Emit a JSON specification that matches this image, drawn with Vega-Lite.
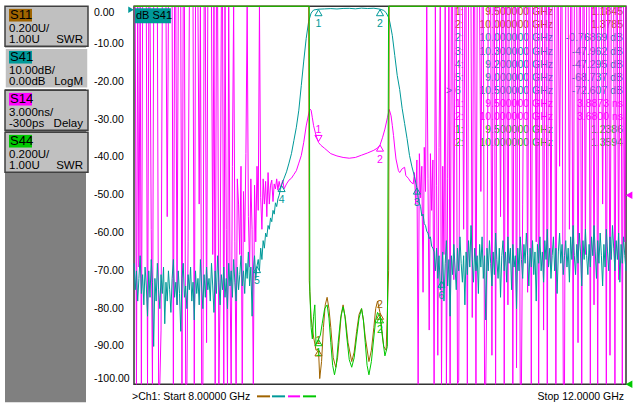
{
"$schema": "https://vega.github.io/schema/vega-lite/v6.json",
"background": "white",
"padding": {"left": 4, "top": 3.25, "right": 0, "bottom": 0},
"bounds": "flush",
"spacing": 48,
"config": {"view": {"stroke": null},
  "axisY": {"labels": false, "ticks": false, "domain": false, "grid": false},
  "axisX": {"labels": false, "ticks": false, "domain": false, "grid": false}},
"datasets": {
"panel": [
{"trace":"S11","scale":"0.200U/","ref":"1.00U","fmt":"SWR"},
{"trace":"S41","scale":"10.00dB/","ref":"0.00dB","fmt":"LogM"},
{"trace":"S14","scale":"3.000ns/","ref":"-300ps","fmt":"Delay"},
{"trace":"S44","scale":"0.200U/","ref":"1.00U","fmt":"SWR"}
],
"ylab": [
{"t":0,"l":"0.00"},{"t":-10,"l":"-10.00"},{"t":-20,"l":"-20.00"},{"t":-30,"l":"-30.00"},{"t":-40,"l":"-40.00"},{"t":-50,"l":"-50.00"},
{"t":-60,"l":"-60.00"},{"t":-70,"l":"-70.00"},{"t":-80,"l":"-80.00"},{"t":-90,"l":"-90.00"},{"t":-100,"l":"-100.00"}
],
"table": [
{"row":1,"trace":"S11","act":"","num":"1:","freq":"9.500000 GHz","val":"1.1845"},
{"row":2,"trace":"S11","act":"","num":"2:","freq":"10.000000 GHz","val":"1.3785"},
{"row":3,"trace":"S41","act":"","num":"2:","freq":"10.000000 GHz","val":"-0.76869 dB"},
{"row":4,"trace":"S41","act":"","num":"3:","freq":"10.300000 GHz","val":"-47.962 dB"},
{"row":5,"trace":"S41","act":"","num":"4:","freq":"9.200000 GHz","val":"-47.295 dB"},
{"row":6,"trace":"S41","act":"","num":"5:","freq":"9.000000 GHz","val":"-68.737 dB"},
{"row":7,"trace":"S41","act":">","num":"6","freq":"10.500000 GHz","val":"-72.607 dB"},
{"row":8,"trace":"S14","act":"","num":"1:","freq":"9.500000 GHz","val":"3.8873 ns"},
{"row":9,"trace":"S14","act":"","num":"2:","freq":"10.000000 GHz","val":"3.6800 ns"},
{"row":10,"trace":"S44","act":"","num":"1:","freq":"9.500000 GHz","val":"1.2386"},
{"row":11,"trace":"S44","act":"","num":"2:","freq":"10.000000 GHz","val":"1.3594"}
],
"s41m": [
{"m":"1","f":9.5,"v":-0.77},{"m":"2","f":10.0,"v":-0.77},{"m":"3","f":10.3,"v":-47.962},
{"m":"4","f":9.2,"v":-47.295},{"m":"5","f":9.0,"v":-68.737},{"m":"6","f":10.5,"v":-72.607}
],
"s14m": [{"m":"1","f":9.5,"v":3.8873},{"m":"2","f":10.0,"v":3.68}],
"s11m": [{"m":"1","f":9.5,"v":1.1845},{"m":"2","f":10.0,"v":1.3785}],
"s44m": [{"m":"1","f":9.5,"v":1.2386},{"m":"2","f":10.0,"v":1.3594}],
"s11": [
{"f":8.0,"v":5},{"f":9.42,"v":5},{"f":9.425,"v":1.55},{"f":9.44,"v":1.35},{"f":9.46,"v":1.25},{"f":9.48,"v":1.18},{"f":9.5,"v":1.1845},{"f":9.51,"v":1.03},{"f":9.525,"v":1.12},{"f":9.54,"v":1.3},{"f":9.555,"v":1.42},{"f":9.57,"v":1.46},{"f":9.585,"v":1.4},{"f":9.6,"v":1.3},{"f":9.62,"v":1.14},{"f":9.64,"v":1.09},{"f":9.655,"v":1.14},{"f":9.67,"v":1.25},{"f":9.685,"v":1.37},{"f":9.7,"v":1.42},{"f":9.72,"v":1.34},{"f":9.74,"v":1.22},{"f":9.77,"v":1.12},{"f":9.79,"v":1.17},{"f":9.81,"v":1.28},{"f":9.83,"v":1.37},{"f":9.85,"v":1.4},{"f":9.865,"v":1.34},{"f":9.88,"v":1.25},{"f":9.91,"v":1.12},{"f":9.93,"v":1.18},{"f":9.95,"v":1.3},{"f":9.965,"v":1.4},{"f":9.98,"v":1.44},{"f":10.0,"v":1.3785},{"f":10.03,"v":1.2},{"f":10.05,"v":1.18},{"f":10.07,"v":1.6},{"f":10.075,"v":5},{"f":12.0,"v":5}
],
"s44": [
{"f":8.0,"v":5},{"f":9.425,"v":5},{"f":9.43,"v":1.49},{"f":9.44,"v":1.3},{"f":9.45,"v":1.24},{"f":9.46,"v":1.36},{"f":9.47,"v":1.42},{"f":9.48,"v":1.21},{"f":9.5,"v":1.2386},{"f":9.515,"v":1.26},{"f":9.53,"v":1.32},{"f":9.55,"v":1.4},{"f":9.57,"v":1.42},{"f":9.585,"v":1.35},{"f":9.6,"v":1.22},{"f":9.615,"v":1.1},{"f":9.63,"v":1.05},{"f":9.645,"v":1.1},{"f":9.66,"v":1.22},{"f":9.68,"v":1.35},{"f":9.7,"v":1.41},{"f":9.715,"v":1.36},{"f":9.73,"v":1.25},{"f":9.75,"v":1.13},{"f":9.77,"v":1.09},{"f":9.79,"v":1.14},{"f":9.81,"v":1.25},{"f":9.83,"v":1.35},{"f":9.85,"v":1.4},{"f":9.865,"v":1.34},{"f":9.88,"v":1.22},{"f":9.895,"v":1.1},{"f":9.91,"v":1.05},{"f":9.93,"v":1.12},{"f":9.95,"v":1.25},{"f":9.965,"v":1.34},{"f":9.98,"v":1.38},{"f":10.0,"v":1.3594},{"f":10.02,"v":1.25},{"f":10.04,"v":1.15},{"f":10.06,"v":1.2},{"f":10.07,"v":5},{"f":12.0,"v":5}
],
"s41": [
{"f":8.00,"v":-68},{"f":8.01,"v":-75},{"f":8.02,"v":-70},{"f":8.03,"v":-78},{"f":8.04,"v":-72},{"f":8.05,"v":-66},{"f":8.06,"v":-76},{"f":8.07,"v":-71},{"f":8.08,"v":-79},{"f":8.09,"v":-69},
{"f":8.10,"v":-74},{"f":8.11,"v":-82},{"f":8.12,"v":-70},{"f":8.13,"v":-77},{"f":8.14,"v":-67},{"f":8.15,"v":-73},{"f":8.16,"v":-90},{"f":8.17,"v":-72},{"f":8.18,"v":-78},{"f":8.19,"v":-68},
{"f":8.20,"v":-75},{"f":8.21,"v":-80},{"f":8.22,"v":-71},{"f":8.23,"v":-76},{"f":8.24,"v":-69},{"f":8.25,"v":-84},{"f":8.26,"v":-73},{"f":8.27,"v":-78},{"f":8.28,"v":-70},{"f":8.29,"v":-75},
{"f":8.30,"v":-81},{"f":8.31,"v":-72},{"f":8.32,"v":-67},{"f":8.33,"v":-77},{"f":8.34,"v":-73},{"f":8.35,"v":-79},{"f":8.36,"v":-70},{"f":8.37,"v":-76},{"f":8.38,"v":-86},{"f":8.39,"v":-72},
{"f":8.40,"v":-68},{"f":8.41,"v":-77},{"f":8.42,"v":-74},{"f":8.43,"v":-80},{"f":8.44,"v":-71},{"f":8.45,"v":-75},{"f":8.46,"v":-69},{"f":8.47,"v":-78},{"f":8.48,"v":-73},{"f":8.49,"v":-83},
{"f":8.50,"v":-70},{"f":8.51,"v":-76},{"f":8.52,"v":-72},{"f":8.53,"v":-79},{"f":8.54,"v":-67},{"f":8.55,"v":-74},{"f":8.56,"v":-80},{"f":8.57,"v":-71},{"f":8.58,"v":-77},{"f":8.59,"v":-69},
{"f":8.60,"v":-75},{"f":8.61,"v":-72},{"f":8.62,"v":-78},{"f":8.63,"v":-68},{"f":8.64,"v":-74},{"f":8.65,"v":-81},{"f":8.66,"v":-70},{"f":8.67,"v":-76},{"f":8.68,"v":-66},{"f":8.69,"v":-73},
{"f":8.70,"v":-79},{"f":8.71,"v":-71},{"f":8.72,"v":-75},{"f":8.73,"v":-69},{"f":8.74,"v":-77},{"f":8.75,"v":-72},{"f":8.76,"v":-80},{"f":8.77,"v":-68},{"f":8.78,"v":-74},{"f":8.79,"v":-70},
{"f":8.80,"v":-77},{"f":8.81,"v":-67},{"f":8.82,"v":-73},{"f":8.83,"v":-78},{"f":8.84,"v":-69},{"f":8.85,"v":-75},{"f":8.86,"v":-71},{"f":8.87,"v":-66},{"f":8.88,"v":-74},{"f":8.89,"v":-70},
{"f":8.90,"v":-76},{"f":8.91,"v":-68},{"f":8.92,"v":-72},{"f":8.93,"v":-65},{"f":8.94,"v":-74},{"f":8.95,"v":-69},{"f":8.96,"v":-82},{"f":8.97,"v":-70},{"f":8.98,"v":-66},{"f":8.99,"v":-72},
{"f":9.00,"v":-68.7},{"f":9.01,"v":-67},{"f":9.02,"v":-70},{"f":9.03,"v":-64},{"f":9.04,"v":-67},{"f":9.05,"v":-62},{"f":9.06,"v":-64},{"f":9.07,"v":-60},{"f":9.08,"v":-61},{"f":9.09,"v":-58},
{"f":9.10,"v":-59},{"f":9.11,"v":-56},{"f":9.12,"v":-57},{"f":9.13,"v":-54},{"f":9.14,"v":-55},{"f":9.15,"v":-52},{"f":9.16,"v":-53},{"f":9.17,"v":-51},{"f":9.18,"v":-50},{"f":9.19,"v":-48.5},
{"f":9.20,"v":-47.3},{"f":9.22,"v":-45.5},{"f":9.24,"v":-43.8},{"f":9.26,"v":-41.5},{"f":9.28,"v":-39},{"f":9.30,"v":-35.5},{"f":9.32,"v":-32},{"f":9.34,"v":-27.5},{"f":9.36,"v":-21},{"f":9.38,"v":-14.5},
{"f":9.40,"v":-8.5},{"f":9.42,"v":-4},{"f":9.44,"v":-1.8},{"f":9.46,"v":-1.0},{"f":9.50,"v":-0.77},{"f":9.55,"v":-0.7},{"f":9.60,"v":-0.62},{"f":9.65,"v":-0.72},{"f":9.70,"v":-0.58},{"f":9.75,"v":-0.55},
{"f":9.80,"v":-0.68},{"f":9.85,"v":-0.5},{"f":9.90,"v":-0.6},{"f":9.95,"v":-0.52},{"f":10.00,"v":-0.77},{"f":10.03,"v":-1.1},{"f":10.05,"v":-1.7},{"f":10.07,"v":-3},{"f":10.08,"v":-4.2},{"f":10.10,"v":-7.7},
{"f":10.12,"v":-13},{"f":10.14,"v":-18.3},{"f":10.16,"v":-22},{"f":10.18,"v":-27},{"f":10.20,"v":-31},{"f":10.22,"v":-35},{"f":10.24,"v":-39.5},{"f":10.26,"v":-42.5},{"f":10.28,"v":-45},{"f":10.30,"v":-48},
{"f":10.31,"v":-50.5},{"f":10.32,"v":-52},{"f":10.33,"v":-53},{"f":10.34,"v":-55.5},{"f":10.35,"v":-55},{"f":10.36,"v":-57.5},{"f":10.37,"v":-58},{"f":10.38,"v":-59.5},{"f":10.39,"v":-60},{"f":10.40,"v":-61.5},
{"f":10.41,"v":-61},{"f":10.42,"v":-63.5},{"f":10.43,"v":-64},{"f":10.44,"v":-65},
{"f":10.45,"v":-70},{"f":10.46,"v":-64},{"f":10.47,"v":-72},{"f":10.48,"v":-66},{"f":10.49,"v":-75},{"f":10.50,"v":-72.6},{"f":10.51,"v":-65},{"f":10.52,"v":-78},{"f":10.53,"v":-68},{"f":10.54,"v":-62},
{"f":10.55,"v":-74},{"f":10.56,"v":-67},{"f":10.57,"v":-82},{"f":10.58,"v":-66},{"f":10.59,"v":-71},{"f":10.60,"v":-63},{"f":10.61,"v":-69},{"f":10.62,"v":-75},{"f":10.63,"v":-64},{"f":10.64,"v":-70},
{"f":10.65,"v":-61},{"f":10.66,"v":-68},{"f":10.67,"v":-73},{"f":10.68,"v":-66},{"f":10.69,"v":-79},{"f":10.70,"v":-65},{"f":10.71,"v":-71},{"f":10.72,"v":-62},{"f":10.73,"v":-69},{"f":10.74,"v":-58},
{"f":10.75,"v":-67},{"f":10.76,"v":-73},{"f":10.77,"v":-64},{"f":10.78,"v":-70},{"f":10.79,"v":-66},{"f":10.80,"v":-76},{"f":10.81,"v":-63},{"f":10.82,"v":-69},{"f":10.83,"v":-61},{"f":10.84,"v":-72},
{"f":10.85,"v":-66},{"f":10.86,"v":-83},{"f":10.87,"v":-64},{"f":10.88,"v":-70},{"f":10.89,"v":-62},{"f":10.90,"v":-68},{"f":10.91,"v":-74},{"f":10.92,"v":-65},{"f":10.93,"v":-71},{"f":10.94,"v":-60},
{"f":10.95,"v":-67},{"f":10.96,"v":-72},{"f":10.97,"v":-64},{"f":10.98,"v":-77},{"f":10.99,"v":-66},{"f":11.00,"v":-62},{"f":11.01,"v":-70},{"f":11.02,"v":-65},{"f":11.03,"v":-73},{"f":11.04,"v":-61},
{"f":11.05,"v":-68},{"f":11.06,"v":-64},{"f":11.07,"v":-75},{"f":11.08,"v":-63},{"f":11.09,"v":-69},{"f":11.10,"v":-66},{"f":11.11,"v":-80},{"f":11.12,"v":-64},{"f":11.13,"v":-70},{"f":11.14,"v":-61},
{"f":11.15,"v":-67},{"f":11.16,"v":-72},{"f":11.17,"v":-63},{"f":11.18,"v":-68},{"f":11.19,"v":-60},{"f":11.20,"v":-66},{"f":11.21,"v":-74},{"f":11.22,"v":-64},{"f":11.23,"v":-69},{"f":11.24,"v":-62},
{"f":11.25,"v":-71},{"f":11.26,"v":-65},{"f":11.27,"v":-78},{"f":11.28,"v":-63},{"f":11.29,"v":-68},{"f":11.30,"v":-61},{"f":11.31,"v":-70},{"f":11.32,"v":-65},{"f":11.33,"v":-73},{"f":11.34,"v":-62},
{"f":11.35,"v":-67},{"f":11.36,"v":-59},{"f":11.37,"v":-69},{"f":11.38,"v":-64},{"f":11.39,"v":-72},{"f":11.40,"v":-66},{"f":11.41,"v":-61},{"f":11.42,"v":-70},{"f":11.43,"v":-64},{"f":11.44,"v":-76},
{"f":11.45,"v":-65},{"f":11.46,"v":-60},{"f":11.47,"v":-68},{"f":11.48,"v":-63},{"f":11.49,"v":-71},{"f":11.50,"v":-66},{"f":11.51,"v":-62},{"f":11.52,"v":-69},{"f":11.53,"v":-64},{"f":11.54,"v":-73},
{"f":11.55,"v":-61},{"f":11.56,"v":-67},{"f":11.57,"v":-58},{"f":11.58,"v":-66},{"f":11.59,"v":-71},{"f":11.60,"v":-63},{"f":11.61,"v":-68},{"f":11.62,"v":-60},{"f":11.63,"v":-65},{"f":11.64,"v":-74},
{"f":11.65,"v":-62},{"f":11.66,"v":-67},{"f":11.67,"v":-59},{"f":11.68,"v":-66},{"f":11.69,"v":-71},{"f":11.70,"v":-63},{"f":11.71,"v":-69},{"f":11.72,"v":-61},{"f":11.73,"v":-66},{"f":11.74,"v":-58},
{"f":11.75,"v":-65},{"f":11.76,"v":-72},{"f":11.77,"v":-62},{"f":11.78,"v":-68},{"f":11.79,"v":-60},{"f":11.80,"v":-66},{"f":11.81,"v":-74},{"f":11.82,"v":-63},{"f":11.83,"v":-69},{"f":11.84,"v":-59},
{"f":11.85,"v":-65},{"f":11.86,"v":-70},{"f":11.87,"v":-61},{"f":11.88,"v":-67},{"f":11.89,"v":-58},{"f":11.90,"v":-64},{"f":11.91,"v":-70},{"f":11.92,"v":-62},{"f":11.93,"v":-67},{"f":11.94,"v":-60},
{"f":11.95,"v":-73},{"f":11.96,"v":-63},{"f":11.97,"v":-68},{"f":11.98,"v":-61},{"f":11.99,"v":-66},{"f":12.00,"v":-70}
],
"s14": [
{"f":8.00,"v":20},{"f":8.01,"v":20},{"f":8.02,"v":-20},{"f":8.03,"v":20},{"f":8.04,"v":-6},{"f":8.05,"v":20},{"f":8.06,"v":-20},{"f":8.07,"v":20},{"f":8.08,"v":20},{"f":8.09,"v":20},
{"f":8.10,"v":20},{"f":8.11,"v":-20},{"f":8.12,"v":20},{"f":8.13,"v":20},{"f":8.14,"v":-3},{"f":8.15,"v":-20},{"f":8.16,"v":20},{"f":8.17,"v":20},{"f":8.18,"v":20},{"f":8.19,"v":20},
{"f":8.20,"v":-20},{"f":8.21,"v":-20},{"f":8.22,"v":-11},{"f":8.23,"v":20},{"f":8.24,"v":20},{"f":8.25,"v":20},{"f":8.26,"v":20},{"f":8.27,"v":-2},{"f":8.28,"v":20},{"f":8.29,"v":20},
{"f":8.30,"v":20},{"f":8.31,"v":20},{"f":8.32,"v":-20},{"f":8.33,"v":20},{"f":8.34,"v":20},{"f":8.35,"v":-9},{"f":8.36,"v":20},{"f":8.37,"v":20},{"f":8.38,"v":20},{"f":8.39,"v":-20},
{"f":8.40,"v":20},{"f":8.41,"v":20},{"f":8.42,"v":-20},{"f":8.43,"v":-20},{"f":8.44,"v":-4},{"f":8.45,"v":20},{"f":8.46,"v":20},{"f":8.47,"v":20},{"f":8.48,"v":20},{"f":8.49,"v":-20},
{"f":8.50,"v":20},{"f":8.51,"v":20},{"f":8.52,"v":20},{"f":8.53,"v":-1},{"f":8.54,"v":20},{"f":8.55,"v":-20},{"f":8.56,"v":-20},{"f":8.57,"v":20},{"f":8.58,"v":20},{"f":8.59,"v":-12},
{"f":8.60,"v":20},{"f":8.61,"v":20},{"f":8.62,"v":20},{"f":8.63,"v":20},{"f":8.64,"v":-5},{"f":8.65,"v":20},{"f":8.66,"v":-20},{"f":8.67,"v":20},{"f":8.68,"v":20},{"f":8.69,"v":-20},
{"f":8.70,"v":-8},{"f":8.71,"v":20},{"f":8.72,"v":20},{"f":8.73,"v":-20},{"f":8.74,"v":20},{"f":8.75,"v":-3},{"f":8.76,"v":-20},{"f":8.77,"v":20},{"f":8.78,"v":-6},{"f":8.79,"v":-20},
{"f":8.80,"v":2},{"f":8.81,"v":20},{"f":8.82,"v":-4},{"f":8.83,"v":-20},{"f":8.84,"v":1},
{"f":8.85,"v":-1},{"f":8.86,"v":-5},{"f":8.87,"v":2},{"f":8.88,"v":-20},{"f":8.89,"v":0},{"f":8.90,"v":-4},{"f":8.91,"v":3},{"f":8.92,"v":20},{"f":8.93,"v":-2},{"f":8.94,"v":-6},
{"f":8.95,"v":1},{"f":8.96,"v":-3},{"f":8.97,"v":-20},{"f":8.98,"v":0.5},{"f":8.99,"v":-4},{"f":9.00,"v":2},{"f":9.01,"v":-1.5},{"f":9.02,"v":20},{"f":9.03,"v":-0.5},{"f":9.04,"v":-3},
{"f":9.05,"v":1},{"f":9.06,"v":-1},{"f":9.07,"v":0.8},{"f":9.08,"v":-2},{"f":9.09,"v":1.5},{"f":9.10,"v":-1},{"f":9.11,"v":0.5},{"f":9.12,"v":0.9},{"f":9.13,"v":-0.8},{"f":9.14,"v":0.6},
{"f":9.15,"v":0.2},{"f":9.16,"v":1.0},{"f":9.17,"v":0.1},{"f":9.18,"v":0.8},{"f":9.19,"v":0.3},{"f":9.20,"v":0.6},{"f":9.21,"v":0.9},{"f":9.22,"v":0.2},
{"f":9.24,"v":0.6},{"f":9.26,"v":0.9},{"f":9.28,"v":1.05},{"f":9.30,"v":1.35},{"f":9.32,"v":1.65},{"f":9.34,"v":2.25},{"f":9.36,"v":2.85},{"f":9.38,"v":3.9},{"f":9.40,"v":5.2},{"f":9.42,"v":6.15},
{"f":9.43,"v":6.54},{"f":9.44,"v":6.45},{"f":9.45,"v":5.85},{"f":9.46,"v":5.22},{"f":9.48,"v":4.44},{"f":9.50,"v":3.89},{"f":9.52,"v":3.66},{"f":9.55,"v":3.42},{"f":9.60,"v":3.0},{"f":9.65,"v":2.82},
{"f":9.70,"v":2.7},{"f":9.75,"v":2.64},{"f":9.80,"v":2.7},{"f":9.85,"v":2.88},{"f":9.90,"v":3.06},{"f":9.95,"v":3.27},{"f":9.98,"v":3.45},{"f":10.00,"v":3.68},{"f":10.02,"v":4.26},{"f":10.04,"v":4.95},
{"f":10.06,"v":5.85},{"f":10.075,"v":6.51},{"f":10.09,"v":6.0},{"f":10.10,"v":5.25},{"f":10.11,"v":4.44},{"f":10.12,"v":3.45},{"f":10.13,"v":2.58},{"f":10.15,"v":1.65},{"f":10.16,"v":1.5},{"f":10.18,"v":1.8},
{"f":10.20,"v":1.92},{"f":10.21,"v":1.26},{"f":10.23,"v":1.05},{"f":10.25,"v":0.75},{"f":10.27,"v":0.6},
{"f":10.28,"v":1.5},{"f":10.29,"v":-1},{"f":10.30,"v":2.5},{"f":10.31,"v":-20},{"f":10.32,"v":3},{"f":10.33,"v":-0.5},{"f":10.34,"v":2},{"f":10.35,"v":-8},{"f":10.36,"v":3.5},{"f":10.37,"v":0},
{"f":10.38,"v":20},{"f":10.39,"v":1},{"f":10.40,"v":-11},{"f":10.41,"v":3},{"f":10.42,"v":-1.5},{"f":10.43,"v":2.5},{"f":10.44,"v":-20},{"f":10.45,"v":20},{"f":10.46,"v":0.5},{"f":10.47,"v":-13},
{"f":10.48,"v":3.5},{"f":10.49,"v":20},{"f":10.50,"v":-20},{"f":10.51,"v":2},{"f":10.52,"v":-5},{"f":10.53,"v":20},{"f":10.54,"v":-20},{"f":10.55,"v":1},
{"f":10.56,"v":20},{"f":10.57,"v":-20},{"f":10.58,"v":20},{"f":10.59,"v":20},{"f":10.60,"v":-7},{"f":10.61,"v":20},{"f":10.62,"v":20},{"f":10.63,"v":-20},{"f":10.64,"v":-15},{"f":10.65,"v":20},
{"f":10.66,"v":20},{"f":10.67,"v":20},{"f":10.68,"v":-3},{"f":10.69,"v":20},{"f":10.70,"v":20},{"f":10.71,"v":-20},{"f":10.72,"v":20},{"f":10.73,"v":20},{"f":10.74,"v":20},{"f":10.75,"v":-10},
{"f":10.76,"v":20},{"f":10.77,"v":20},{"f":10.78,"v":-20},{"f":10.79,"v":20},{"f":10.80,"v":20},{"f":10.81,"v":20},{"f":10.82,"v":0},{"f":10.83,"v":20},{"f":10.84,"v":20},{"f":10.85,"v":-20},
{"f":10.86,"v":-20},{"f":10.87,"v":-6},{"f":10.88,"v":20},{"f":10.89,"v":20},{"f":10.90,"v":20},{"f":10.91,"v":-13},{"f":10.92,"v":20},{"f":10.93,"v":20},{"f":10.94,"v":-20},{"f":10.95,"v":20},
{"f":10.96,"v":20},{"f":10.97,"v":20},{"f":10.98,"v":-2},{"f":10.99,"v":20},{"f":11.00,"v":20},{"f":11.01,"v":-20},{"f":11.02,"v":20},{"f":11.03,"v":20},{"f":11.04,"v":-9},{"f":11.05,"v":20},
{"f":11.06,"v":20},{"f":11.07,"v":20},{"f":11.08,"v":-20},{"f":11.09,"v":20},{"f":11.10,"v":20},{"f":11.11,"v":-14},{"f":11.12,"v":20},{"f":11.13,"v":20},{"f":11.14,"v":-20},{"f":11.15,"v":-20},
{"f":11.16,"v":-1},{"f":11.17,"v":20},{"f":11.18,"v":20},{"f":11.19,"v":20},{"f":11.20,"v":-8},{"f":11.21,"v":20},{"f":11.22,"v":20},{"f":11.23,"v":-20},{"f":11.24,"v":20},{"f":11.25,"v":20},
{"f":11.26,"v":20},{"f":11.27,"v":-4},{"f":11.28,"v":20},{"f":11.29,"v":-20},{"f":11.30,"v":20},{"f":11.31,"v":20},{"f":11.32,"v":20},{"f":11.33,"v":-11},{"f":11.34,"v":20},{"f":11.35,"v":20},
{"f":11.36,"v":-20},{"f":11.37,"v":20},{"f":11.38,"v":20},{"f":11.39,"v":-6},{"f":11.40,"v":20},{"f":11.41,"v":20},{"f":11.42,"v":20},{"f":11.43,"v":-20},{"f":11.44,"v":20},{"f":11.45,"v":20},
{"f":11.46,"v":2},{"f":11.47,"v":20},{"f":11.48,"v":20},{"f":11.49,"v":-20},{"f":11.50,"v":-16},{"f":11.51,"v":20},{"f":11.52,"v":20},{"f":11.53,"v":20},{"f":11.54,"v":-3},{"f":11.55,"v":20},
{"f":11.56,"v":20},{"f":11.57,"v":-20},{"f":11.58,"v":20},{"f":11.59,"v":20},{"f":11.60,"v":20},{"f":11.61,"v":-12},{"f":11.62,"v":20},{"f":11.63,"v":20},{"f":11.64,"v":-20},{"f":11.65,"v":20},
{"f":11.66,"v":20},{"f":11.67,"v":-5},{"f":11.68,"v":20},{"f":11.69,"v":20},{"f":11.70,"v":20},{"f":11.71,"v":-20},{"f":11.72,"v":20},{"f":11.73,"v":20},{"f":11.74,"v":-9},{"f":11.75,"v":20},
{"f":11.76,"v":20},{"f":11.77,"v":-20},{"f":11.78,"v":20},{"f":11.79,"v":20},{"f":11.80,"v":20},{"f":11.81,"v":-1},{"f":11.82,"v":20},{"f":11.83,"v":20},{"f":11.84,"v":-20},{"f":11.85,"v":20},
{"f":11.86,"v":20},{"f":11.87,"v":-13},{"f":11.88,"v":20},{"f":11.89,"v":20},{"f":11.90,"v":20},{"f":11.91,"v":-20},{"f":11.92,"v":20},{"f":11.93,"v":20},{"f":11.94,"v":-7},{"f":11.95,"v":20},
{"f":11.96,"v":20},{"f":11.97,"v":-20},{"f":11.98,"v":20},{"f":11.99,"v":-4},{"f":12.00,"v":20}
]
},
"hconcat": [
{
"width": 81, "height": 396,
"view": {"fill": "#808080", "stroke": null},
"data": {"name": "panel"},
"encoding": {"y": {"field": "trace", "type": "nominal", "title": null, "axis": null, "sort": null,
  "scale": {"domain": ["S11","S41","S14","S44","e1","e2","e3","e4","e5"], "paddingInner": 0.05, "paddingOuter": 0.239, "align": 0}}},
"layer": [
 {"mark": {"type": "rect", "fill": "#c0c0c0", "strokeWidth": 1.5, "xOffset": 2, "x2Offset": -2},
  "encoding": {"stroke": {"condition": {"test": "datum.trace == 'S41'", "value": "#ffffff"}, "value": "#404040"}}},
 {"mark": {"type": "point", "shape": "M-1,-0.55H1V0.55H-1Z", "size": 529, "filled": true, "opacity": 1, "strokeWidth": 0, "xOffset": -25, "yOffset": -11},
  "encoding": {"color": {"field": "trace", "type": "nominal", "legend": null, "scale": {"domain": ["S11","S41","S14","S44"], "range": ["#a06400","#009999","#ff00ff","#00c800"]}}}},
 {"mark": {"type": "text", "align": "left", "baseline": "middle", "dx": -35.5, "dy": -11, "font": "Liberation Sans", "fontSize": 13, "color": "#000000"}, "encoding": {"text": {"field": "trace"}}},
 {"mark": {"type": "text", "align": "left", "baseline": "middle", "dx": -36.5, "dy": 3, "font": "Liberation Sans", "fontSize": 11.5, "color": "#000000"}, "encoding": {"text": {"field": "scale"}}},
 {"mark": {"type": "text", "align": "left", "baseline": "middle", "dx": -36.5, "dy": 14, "font": "Liberation Sans", "fontSize": 11.5, "color": "#000000"}, "encoding": {"text": {"field": "ref"}}},
 {"mark": {"type": "text", "align": "right", "baseline": "middle", "dx": 37.5, "dy": 14, "font": "Liberation Sans", "fontSize": 11.5, "color": "#000000"}, "encoding": {"text": {"field": "fmt"}}}
]
},
{
"width": 492, "height": 378,
"view": {"stroke": "#333333", "strokeWidth": 1.5},
"resolve": {"scale": {"y": "independent"}, "axis": {"y": "independent"}},
"layer": [
 {"data": {"name": "table"},
  "encoding": {
   "y": {"field": "row", "type": "quantitative", "axis": null, "scale": {"domain": [0.54, 29.4], "reverse": true, "nice": false, "zero": false}},
   "color": {"field": "trace", "type": "nominal", "legend": null, "scale": {"domain": ["S11","S41","S14","S44"], "range": ["#a06400","#009999","#ff00ff","#00c800"]}}
  },
  "layer": [
   {"mark": {"type": "text", "align": "left", "baseline": "middle", "font": "Liberation Sans", "fontSize": 10.5}, "encoding": {"x": {"datum": 10.61, "axis": null}, "text": {"field": "num"}}},
   {"mark": {"type": "text", "align": "left", "baseline": "middle", "font": "Liberation Sans", "fontSize": 10.5}, "encoding": {"x": {"datum": 10.537, "axis": null}, "text": {"field": "act"}}},
   {"mark": {"type": "text", "align": "right", "baseline": "middle", "font": "Liberation Sans", "fontSize": 10.5}, "encoding": {"x": {"datum": 11.4065, "axis": null}, "text": {"field": "freq"}}},
   {"mark": {"type": "text", "align": "right", "baseline": "middle", "font": "Liberation Sans", "fontSize": 10.5}, "encoding": {"x": {"datum": 11.976, "axis": null}, "text": {"field": "val"}}}
  ]},
 {"layer": [
  {"data": {"name": "s14"}, "mark": {"type": "line", "color": "#ff00ff", "strokeWidth": 1},
   "encoding": {"x": {"field": "f", "type": "quantitative", "axis": null}, "y": {"field": "v", "type": "quantitative", "axis": null, "scale": {"domain": [-15.3, 14.7], "clamp": true, "nice": false, "zero": false}}}},
  {"data": {"name": "s14m"}, "transform": [{"filter": "datum.m == '1'"}], "mark": {"type": "point", "shape": "triangle-down", "filled": false, "color": "#ff00ff", "size": 50, "opacity": 1, "strokeWidth": 1, "yOffset": -4},
   "encoding": {"x": {"field": "f", "type": "quantitative", "axis": null}, "y": {"field": "v", "type": "quantitative", "axis": null}}},
  {"data": {"name": "s14m"}, "transform": [{"filter": "datum.m == '1'"}], "mark": {"type": "text", "color": "#ff00ff", "font": "Liberation Sans", "fontSize": 10.5, "baseline": "middle", "dy": -12.5},
   "encoding": {"x": {"field": "f", "type": "quantitative", "axis": null}, "y": {"field": "v", "type": "quantitative", "axis": null}, "text": {"field": "m"}}},
  {"data": {"name": "s14m"}, "transform": [{"filter": "datum.m == '2'"}], "mark": {"type": "point", "shape": "triangle-up", "filled": false, "color": "#ff00ff", "size": 50, "opacity": 1, "strokeWidth": 1, "yOffset": 3},
   "encoding": {"x": {"field": "f", "type": "quantitative", "axis": null}, "y": {"field": "v", "type": "quantitative", "axis": null}}},
  {"data": {"name": "s14m"}, "transform": [{"filter": "datum.m == '2'"}], "mark": {"type": "text", "color": "#ff00ff", "font": "Liberation Sans", "fontSize": 10.5, "baseline": "middle", "dy": 14.5},
   "encoding": {"x": {"field": "f", "type": "quantitative", "axis": null}, "y": {"field": "v", "type": "quantitative", "axis": null}, "text": {"field": "m"}}},
  {"data": {"values": [{}]}, "mark": {"type": "point", "shape": "triangle-left", "filled": true, "color": "#ff00ff", "size": 60, "opacity": 1, "xOffset": 3},
   "encoding": {"x": {"datum": 12, "axis": null}, "y": {"datum": -0.3, "axis": null}}}
 ]},
 {"layer": [
  {"data": {"name": "s41"}, "mark": {"type": "line", "color": "#009999", "strokeWidth": 1},
   "encoding": {
    "x": {"field": "f", "type": "quantitative", "title": null, "scale": {"domain": [8, 12], "nice": false, "zero": false},
      "axis": {"values": [8.4,8.8,9.2,9.6,10,10.4,10.8,11.2,11.6], "grid": true, "gridColor": "#333333", "gridWidth": 1.5, "labels": false, "ticks": false, "domain": false, "title": null}},
    "y": {"field": "v", "type": "quantitative", "title": null, "scale": {"domain": [-100, 0], "nice": false, "zero": false},
      "axis": {"orient": "left", "values": [0,-10,-20,-30,-40,-50,-60,-70,-80,-90,-100], "grid": true, "gridColor": "#333333", "gridWidth": 1.5, "labels": false, "ticks": false, "domain": false, "title": null}}
   }},
  {"data": {"name": "ylab"}, "transform": [{"filter": "datum.t == 0"}], "mark": {"type": "text", "align": "left", "baseline": "top", "dx": -40, "dy": 2, "font": "Liberation Sans", "fontSize": 10.5, "color": "#000000"},
   "encoding": {"x": {"datum": 8, "axis": null}, "y": {"field": "t", "type": "quantitative", "axis": null}, "text": {"field": "l"}}},
  {"data": {"name": "ylab"}, "transform": [{"filter": "datum.t < 0 && datum.t > -100"}], "mark": {"type": "text", "align": "left", "baseline": "middle", "dx": -40, "font": "Liberation Sans", "fontSize": 10.5, "color": "#000000"},
   "encoding": {"x": {"datum": 8, "axis": null}, "y": {"field": "t", "type": "quantitative", "axis": null}, "text": {"field": "l"}}},
  {"data": {"name": "ylab"}, "transform": [{"filter": "datum.t == -100"}], "mark": {"type": "text", "align": "left", "baseline": "bottom", "dx": -40, "font": "Liberation Sans", "fontSize": 10.5, "color": "#000000"},
   "encoding": {"x": {"datum": 8, "axis": null}, "y": {"field": "t", "type": "quantitative", "axis": null}, "text": {"field": "l"}}},
  {"data": {"name": "s41m"}, "mark": {"type": "point", "shape": "triangle-up", "filled": false, "color": "#009999", "size": 50, "opacity": 1, "strokeWidth": 1, "yOffset": 3.5},
   "encoding": {"x": {"field": "f", "type": "quantitative", "axis": null}, "y": {"field": "v", "type": "quantitative", "axis": null}}},
  {"data": {"name": "s41m"}, "mark": {"type": "text", "color": "#009999", "font": "Liberation Sans", "fontSize": 10.5, "baseline": "middle", "dy": 15},
   "encoding": {"x": {"field": "f", "type": "quantitative", "axis": null}, "y": {"field": "v", "type": "quantitative", "axis": null}, "text": {"field": "m"}}},
  {"data": {"values": [{"label": ">Ch1: Start  8.00000 GHz"}]}, "mark": {"type": "text", "align": "left", "baseline": "middle", "dx": -2, "font": "Liberation Sans", "fontSize": 10.5, "color": "#000000"},
   "encoding": {"x": {"datum": 8, "axis": null}, "y": {"datum": -103.4, "axis": null}, "text": {"field": "label"}}},
  {"data": {"values": [{"label": "Stop  12.0000 GHz"}]}, "mark": {"type": "text", "align": "right", "baseline": "middle", "dx": -2, "font": "Liberation Sans", "fontSize": 10.5, "color": "#000000"},
   "encoding": {"x": {"datum": 12, "axis": null}, "y": {"datum": -103.4, "axis": null}, "text": {"field": "label"}}},
  {"data": {"values": [{}]}, "mark": {"type": "rule", "color": "#a06400", "strokeWidth": 2}, "encoding": {"x": {"datum": 9.0, "axis": null}, "x2": {"datum": 9.106}, "y": {"datum": -103.2, "axis": null}}},
  {"data": {"values": [{}]}, "mark": {"type": "rule", "color": "#009999", "strokeWidth": 2}, "encoding": {"x": {"datum": 9.122, "axis": null}, "x2": {"datum": 9.228}, "y": {"datum": -103.2, "axis": null}}},
  {"data": {"values": [{}]}, "mark": {"type": "rule", "color": "#ff00ff", "strokeWidth": 2}, "encoding": {"x": {"datum": 9.252, "axis": null}, "x2": {"datum": 9.35}, "y": {"datum": -103.2, "axis": null}}},
  {"data": {"values": [{}]}, "mark": {"type": "rule", "color": "#00c800", "strokeWidth": 2}, "encoding": {"x": {"datum": 9.374, "axis": null}, "x2": {"datum": 9.48}, "y": {"datum": -103.2, "axis": null}}}
 ]},
 {"layer": [
  {"data": {"name": "s11"}, "mark": {"type": "line", "color": "#a06400", "strokeWidth": 1},
   "encoding": {"x": {"field": "f", "type": "quantitative", "axis": null}, "y": {"field": "v", "type": "quantitative", "axis": null, "scale": {"domain": [1, 3], "clamp": true, "nice": false, "zero": false}}}},
  {"data": {"name": "s11m"}, "mark": {"type": "point", "shape": "triangle-up", "filled": false, "color": "#a06400", "size": 50, "opacity": 1, "strokeWidth": 1, "yOffset": 3.5},
   "encoding": {"x": {"field": "f", "type": "quantitative", "axis": null}, "y": {"field": "v", "type": "quantitative", "axis": null}}},
  {"data": {"name": "s11m"}, "mark": {"type": "text", "color": "#a06400", "font": "Liberation Sans", "fontSize": 10.5, "baseline": "middle", "dy": -8},
   "encoding": {"x": {"field": "f", "type": "quantitative", "axis": null}, "y": {"field": "v", "type": "quantitative", "axis": null}, "text": {"field": "m"}}},
  {"data": {"name": "s44"}, "mark": {"type": "line", "color": "#00c800", "strokeWidth": 1},
   "encoding": {"x": {"field": "f", "type": "quantitative", "axis": null}, "y": {"field": "v", "type": "quantitative", "axis": null}}},
  {"data": {"name": "s44m"}, "mark": {"type": "point", "shape": "triangle-up", "filled": false, "color": "#00c800", "size": 50, "opacity": 1, "strokeWidth": 1, "yOffset": 3.5},
   "encoding": {"x": {"field": "f", "type": "quantitative", "axis": null}, "y": {"field": "v", "type": "quantitative", "axis": null}}},
  {"data": {"name": "s44m"}, "mark": {"type": "text", "color": "#00c800", "font": "Liberation Sans", "fontSize": 10.5, "baseline": "middle", "dy": 14},
   "encoding": {"x": {"field": "f", "type": "quantitative", "axis": null}, "y": {"field": "v", "type": "quantitative", "axis": null}, "text": {"field": "m"}}},
  {"data": {"values": [{}]}, "mark": {"type": "point", "shape": "triangle-left", "filled": true, "color": "#00c800", "size": 60, "opacity": 1, "xOffset": 3},
   "encoding": {"x": {"datum": 12, "axis": null}, "y": {"datum": 1.0, "axis": null}}}
 ]},
 {"data": {"values": [{"label": "dB S41"}]}, "layer": [
  {"mark": {"type": "rect", "color": "#009999"},
   "encoding": {"x": {"datum": 8.008, "axis": null}, "x2": {"datum": 8.3}, "y": {"datum": -0.5, "axis": null, "scale": {"domain": [-100, 0], "nice": false, "zero": false}}, "y2": {"datum": -4.5}}},
  {"mark": {"type": "text", "align": "left", "baseline": "middle", "font": "Liberation Sans", "fontSize": 11, "color": "#000000"},
   "encoding": {"x": {"datum": 8.016, "axis": null}, "y": {"datum": -2.5, "axis": null}, "text": {"field": "label"}}},
  {"mark": {"type": "point", "shape": "triangle-right", "filled": true, "color": "#009999", "size": 40, "opacity": 1, "xOffset": -3, "yOffset": 3.5},
   "encoding": {"x": {"datum": 8, "axis": null}, "y": {"datum": 0, "axis": null}}}
 ]}
]
}
]
}
